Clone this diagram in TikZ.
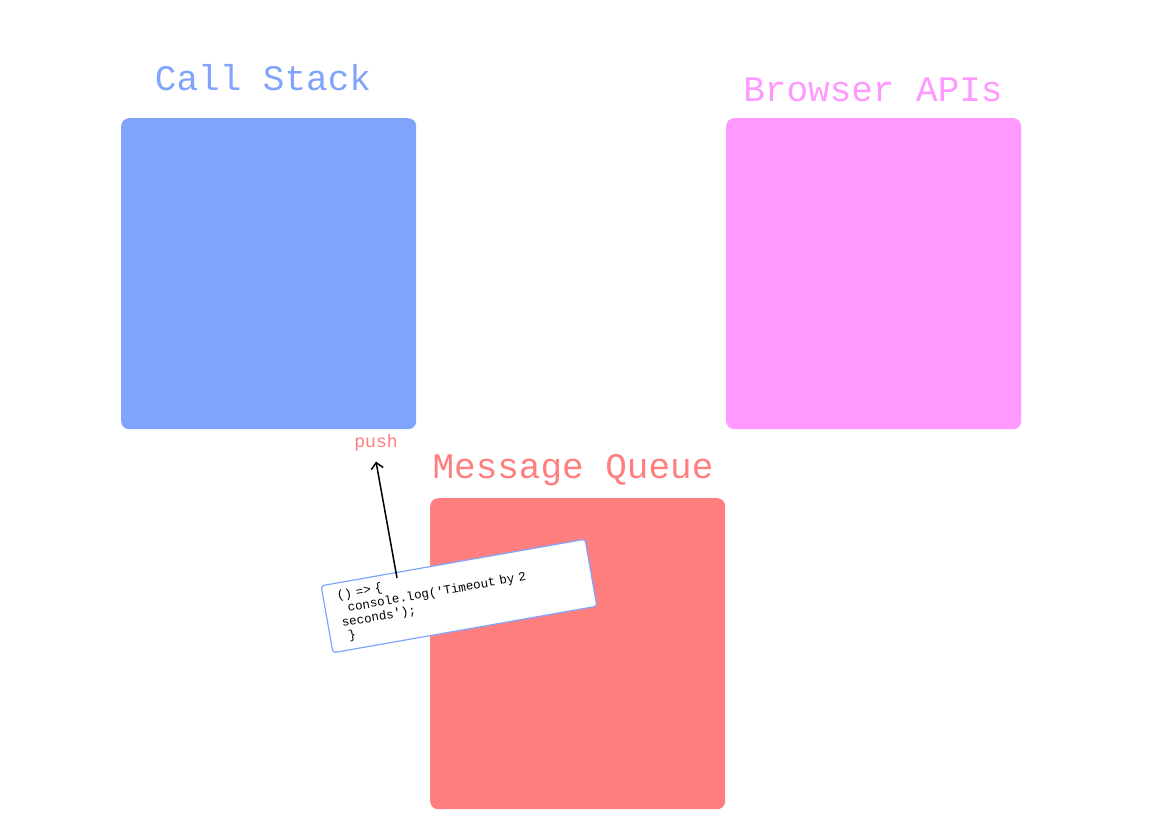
\documentclass[tikz,border=0pt]{standalone}
\usepackage{fontspec}
\setmonofont[WordSpace={1,0,0}]{Liberation Mono}
\usetikzlibrary{arrows.meta}
\begin{document}
\begin{tikzpicture}[x=1pt,y=-1pt,
  panel/.style={rounded corners=8pt,inner sep=0pt,minimum width=295pt,minimum height=311pt,anchor=north west},
  ttl/.style={font=\fontsize{36}{40}\selectfont\ttfamily,inner sep=0pt}]
\useasboundingbox (0,0) rectangle (1155,827);
\definecolor{cblue}{HTML}{80A3FC}
\definecolor{cpink}{HTML}{FF99FF}
\definecolor{cred}{HTML}{FF7F7F}
\node[panel,fill=cblue] (cs) at (121,118) {};
\node[panel,fill=cpink] (ba) at (726,118) {};
\node[panel,fill=cred] (mq) at (430,498) {};
\node[ttl,text=cblue] (tcs) at (263,78) {Call Stack};
\node[ttl,text=cpink] (tba) at (873,90) {Browser APIs};
\node[ttl,text=cred] (tmq) at (573,470) {Message Queue};
\node[font=\fontsize{18}{20}\selectfont\ttfamily,text=cred,inner sep=0pt] (push) at (376,443) {push};
\node[draw=cblue,line width=1.2pt,fill=white,rounded corners=3pt,rotate=10,minimum width=268pt,minimum height=68pt,
  inner xsep=14pt,inner ysep=4pt,font=\fontsize{12.5}{14}\selectfont\ttfamily,align=left,text width=240pt] (card) at (459,596)
  {()\ =>\ \{\\\ \ console.log('Timeout\ by\ 2\\seconds');\\\ \}};
\coordinate (src) at (397,578);
\draw[-{Straight Barb[length=6pt,width=12pt]},line width=1.5pt] (src) -- ([yshift=-10pt]push.south);
\end{tikzpicture}
\end{document}
